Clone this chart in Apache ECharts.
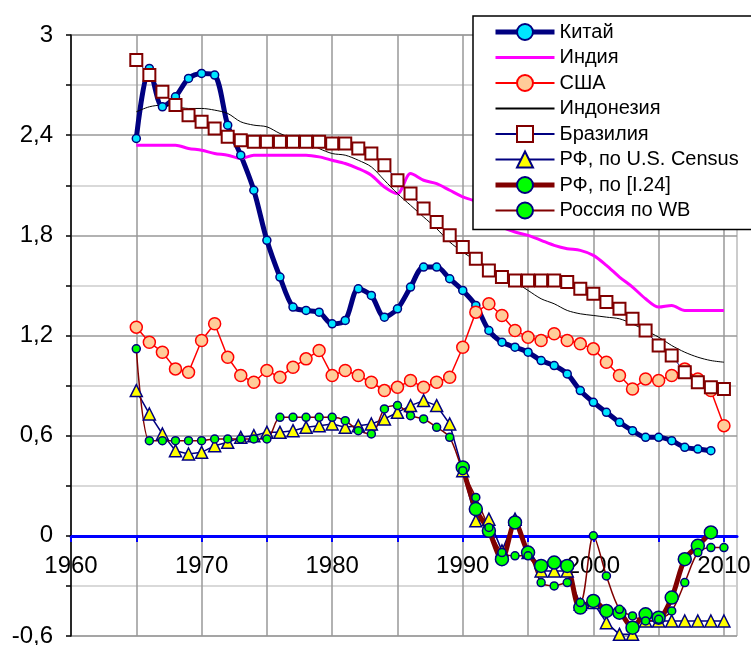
<!DOCTYPE html>
<html>
<head>
<meta charset="utf-8">
<script src="https://cdn.jsdelivr.net/npm/echarts@6.0.0/dist/echarts.min.js"></script>
<style>
html, body { margin: 0; padding: 0; background: #fff; }
#chart { width: 751px; height: 645px; }
</style>
</head>
<body>
<div id="chart"></div>
<script>
var years = [1965, 1966, 1967, 1968, 1969, 1970, 1971, 1972, 1973, 1974,
             1975, 1976, 1977, 1978, 1979, 1980, 1981, 1982, 1983, 1984,
             1985, 1986, 1987, 1988, 1989, 1990, 1991, 1992, 1993, 1994,
             1995, 1996, 1997, 1998, 1999, 2000, 2001, 2002, 2003, 2004,
             2005, 2006, 2007, 2008, 2009, 2010];
var yearsI24 = [1990, 1991, 1992, 1993, 1994, 1995, 1996, 1997, 1998, 1999,
                2000, 2001, 2002, 2003, 2004, 2005, 2006, 2007, 2008, 2009];
var xTicks = [1960, 1965, 1970, 1975, 1980, 1985, 1990, 1995, 2000, 2005, 2010];
var xLabels = [1960, 1970, 1980, 1990, 2000, 2010];

// Китай: 1965-2009
var china = [2.38, 2.80, 2.57, 2.63, 2.74, 2.77, 2.76, 2.46, 2.28, 2.07,
             1.77, 1.55, 1.37, 1.35, 1.34, 1.27, 1.29, 1.48, 1.44, 1.31,
             1.36, 1.49, 1.61, 1.61, 1.54, 1.47, 1.38, 1.23, 1.16, 1.13,
             1.10, 1.05, 1.02, 0.97, 0.87, 0.80, 0.74, 0.68, 0.63, 0.59,
             0.59, 0.57, 0.53, 0.52, 0.51];
var india = [2.34, 2.34, 2.34, 2.34, 2.32, 2.31, 2.29, 2.28, 2.26, 2.28,
             2.28, 2.28, 2.28, 2.28, 2.27, 2.25, 2.23, 2.20, 2.16, 2.09,
             2.05, 2.17, 2.13, 2.11, 2.07, 2.03, 2.00, 1.90, 1.85, 1.82,
             1.80, 1.77, 1.74, 1.72, 1.71, 1.68, 1.62, 1.55, 1.49, 1.42,
             1.37, 1.38, 1.35, 1.35, 1.35, 1.35];
var usa = [1.25, 1.16, 1.10, 1.00, 0.98, 1.17, 1.27, 1.07, 0.96, 0.92,
           0.99, 0.95, 1.01, 1.06, 1.11, 0.96, 0.99, 0.96, 0.92, 0.87,
           0.89, 0.93, 0.89, 0.92, 0.95, 1.13, 1.34, 1.39, 1.32, 1.23,
           1.19, 1.17, 1.21, 1.17, 1.15, 1.12, 1.04, 0.96, 0.88, 0.94,
           0.93, 0.96, 1.00, 0.94, 0.87, 0.66];
var indonesia = [2.54, 2.57, 2.58, 2.57, 2.56, 2.56, 2.55, 2.53, 2.48, 2.46,
                 2.45, 2.41, 2.38, 2.36, 2.32, 2.29, 2.28, 2.25, 2.21, 2.13,
                 2.05, 1.98, 1.91, 1.84, 1.76, 1.70, 1.65, 1.61, 1.56, 1.52,
                 1.47, 1.42, 1.39, 1.35, 1.33, 1.32, 1.31, 1.30, 1.27, 1.23,
                 1.19, 1.14, 1.10, 1.07, 1.05, 1.04];
var brazil = [2.85, 2.76, 2.66, 2.58, 2.52, 2.48, 2.44, 2.39, 2.37, 2.36,
              2.36, 2.36, 2.36, 2.36, 2.36, 2.35, 2.35, 2.32, 2.29, 2.22,
              2.13, 2.05, 1.96, 1.88, 1.80, 1.73, 1.66, 1.59, 1.55, 1.53,
              1.53, 1.53, 1.53, 1.52, 1.48, 1.45, 1.40, 1.36, 1.30, 1.23,
              1.14, 1.08, 0.98, 0.92, 0.89, 0.88];
var rfCensus = [0.87, 0.73, 0.61, 0.51, 0.49, 0.50, 0.54, 0.56, 0.59, 0.60,
                0.62, 0.62, 0.63, 0.65, 0.66, 0.67, 0.65, 0.66, 0.67, 0.70,
                0.74, 0.78, 0.81, 0.78, 0.67, 0.39, 0.09, 0.10, -0.09, 0.10,
                -0.10, -0.21, -0.21, -0.21, -0.41, -0.40, -0.52, -0.59, -0.59, -0.51,
                -0.51, -0.51, -0.51, -0.51, -0.51, -0.51];
var rfI24 = [0.41, 0.16, 0.03, -0.14, 0.08, -0.10, -0.18, -0.16, -0.18, -0.43,
             -0.39, -0.45, -0.46, -0.55, -0.47, -0.49, -0.37, -0.14, -0.06, 0.02];
var russiaWB = [1.12, 0.57, 0.57, 0.57, 0.57, 0.57, 0.58, 0.58, 0.58, 0.58,
                0.58, 0.71, 0.71, 0.71, 0.71, 0.71, 0.69, 0.63, 0.61, 0.76,
                0.78, 0.72, 0.70, 0.65, 0.59, 0.39, 0.23, 0.05, -0.10, -0.12,
                -0.12, -0.28, -0.30, -0.28, -0.40, 0.00, -0.24, -0.44, -0.48, -0.51,
                -0.50, -0.45, -0.28, -0.10, -0.07, -0.07];

function pairs(xs, ys) {
    var out = [];
    for (var i = 0; i < ys.length; i++) out.push([xs[i], ys[i]]);
    return out;
}

var font = 'Liberation Sans, Arial, sans-serif';
var myChart = echarts.init(document.getElementById('chart'));

var options = {
    backgroundColor: '#fff',
    animation: false,
    grid: {
        left: 71, right: 14, top: 35, bottom: 9,
        outerBoundsMode: 'none',
        show: true, borderColor: '#999', borderWidth: 1
    },
    legend: {
        orient: 'vertical',
        left: 473, top: 16,
        padding: [6, 30, 9, 20],
        itemWidth: 59, itemHeight: 20, itemGap: 5.5,
        backgroundColor: '#fff',
        borderColor: '#000', borderWidth: 1.5,
        textStyle: { fontFamily: font, fontSize: 20, color: '#000' },
        data: [
            { name: 'Китай', lineStyle: { width: 5 } },
            { name: 'Индия', lineStyle: { width: 3 } },
            'США', 'Индонезия', 'Бразилия', 'РФ, по U.S. Census',
            { name: 'РФ, по [I.24]', lineStyle: { width: 5 } },
            'Россия по WB'
        ]
    },
    xAxis: {
        type: 'value',
        min: 1960, max: 2011, interval: 5,
        offset: -100,
        axisLine: { onZero: false, lineStyle: { color: '#0000ff', width: 3 } },
        axisTick: { customValues: xTicks, length: 6, lineStyle: { color: '#0000ff', width: 2 } },
        axisLabel: {
            customValues: xLabels,
            margin: 18,
            fontFamily: font, fontSize: 24, color: '#000',
            formatter: function (v) { return String(v); }
        },
        splitLine: { lineStyle: { color: '#999', width: 1.5 } }
    },
    yAxis: {
        type: 'value',
        min: -0.6, max: 3, interval: 0.3,
        axisLine: { onZero: false, lineStyle: { color: '#000', width: 1.5 } },
        axisTick: { length: 5, lineStyle: { color: '#000', width: 1.5 } },
        axisLabel: {
            margin: 18,
            fontFamily: font, fontSize: 24, color: '#000',
            formatter: function (v) {
                var t = Math.round(v * 10);
                if (t % 6 !== 0) return '';
                return String(t / 10).replace('.', ',');
            }
        },
        splitLine: { lineStyle: { color: ['#999', '#ccc'], width: 1.5 } }
    },
    series: [
        {
            name: 'Китай', type: 'line', smooth: 0.3,
            data: pairs(years, china),
            symbol: 'circle', symbolSize: 8,
            lineStyle: { color: '#000080', width: 5 },
            itemStyle: { color: '#00e5ff', borderColor: '#000080', borderWidth: 1.5 }
        },
        {
            name: 'Индия', type: 'line', smooth: 0.3,
            data: pairs(years, india),
            showSymbol: false, symbol: 'none',
            lineStyle: { color: '#ff00ff', width: 3 },
            itemStyle: { color: 'rgba(0,0,0,0)' }
        },
        {
            name: 'США', type: 'line',
            data: pairs(years, usa),
            symbol: 'circle', symbolSize: 12,
            lineStyle: { color: '#ff0000', width: 1.5 },
            itemStyle: { color: '#ffcc99', borderColor: '#ff0000', borderWidth: 1.5 }
        },
        {
            name: 'Индонезия', type: 'line', smooth: 0.3,
            data: pairs(years, indonesia),
            showSymbol: false, symbol: 'none',
            lineStyle: { color: '#000', width: 1 },
            itemStyle: { color: 'rgba(0,0,0,0)' }
        },
        {
            name: 'Бразилия', type: 'line',
            data: pairs(years, brazil),
            symbol: 'rect', symbolSize: 12,
            lineStyle: { color: '#000080', width: 1 },
            itemStyle: { color: '#fff', borderColor: '#800000', borderWidth: 2 }
        },
        {
            name: 'РФ, по U.S. Census', type: 'line',
            data: pairs(years, rfCensus),
            symbol: 'triangle', symbolSize: 12,
            lineStyle: { color: '#000080', width: 1.5 },
            itemStyle: { color: '#ffff00', borderColor: '#000080', borderWidth: 1.5 }
        },
        {
            name: 'РФ, по [I.24]', type: 'line', smooth: 0.3,
            data: pairs(yearsI24, rfI24),
            symbol: 'circle', symbolSize: 13,
            lineStyle: { color: '#800000', width: 5 },
            itemStyle: { color: '#00ff00', borderColor: '#000080', borderWidth: 1.5 }
        },
        {
            name: 'Россия по WB', type: 'line', smooth: 0.3,
            data: pairs(years, russiaWB),
            symbol: 'circle', symbolSize: 8,
            lineStyle: { color: '#800000', width: 1.5 },
            itemStyle: { color: '#00ff00', borderColor: '#000080', borderWidth: 1.5 }
        }
    ]
};

myChart.setOption(options);
</script>
</body>
</html>
